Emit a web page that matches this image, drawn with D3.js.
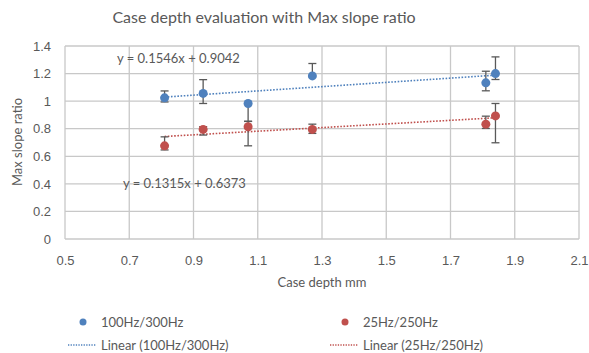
<!DOCTYPE html>
<html lang="en">
<head>
  <meta charset="UTF-8" />
  <title>Case depth evaluation with Max slope ratio</title>
  <style>
    body { margin: 0; background: #fff; font-family: Lato, "Open Sans", sans-serif; }
    .grid line { stroke: #c8c8c8; stroke-width: 1.3; }
    .axis text { fill: #595959; font-size: 13px; }
    .axis path, .axis line { display: none; }
  </style>
</head>
<body>
  <div id="chart"></div>
  <script src="https://d3js.org/d3.v7.min.js"></script>
  <script>
    // Data
    var depths = [0.81, 0.93, 1.07, 1.27, 1.81, 1.84];
    var highFreq = [1.024, 1.056, 0.983, 1.183, 1.133, 1.2];
    var highPlus = [0.05, 0.1, 0, 0.09, 0.084, 0.121];
    var highMinus = [0.03, 0.073, 0.13, 0, 0.058, 0.043];
    var lowFreq = [0.676, 0.795, 0.814, 0.795, 0.833, 0.893];
    var lowPlus = [0.065, 0.02, 0.04, 0.038, 0.058, 0.09];
    var lowMinus = [0.03, 0.041, 0.138, 0.029, 0.031, 0.195];
    var fits = [
      { name: "100Hz/300Hz", slope: 0.1546, icpt: 0.9042, label: "y = 0.1546x + 0.9042" },
      { name: "25Hz/250Hz", slope: 0.1315, icpt: 0.6373, label: "y = 0.1315x + 0.6373" }
    ];
    var xTicks = [0.5, 0.7, 0.9, 1.1, 1.3, 1.5, 1.7, 1.9, 2.1];
    var yTicks = [0, 0.2, 0.4, 0.6, 0.8, 1, 1.2, 1.4];

    var W = 589, H = 353;
    var margin = { top: 46, right: 10, bottom: 114, left: 65 };
    var width = 579 - margin.left, height = 239 - margin.top;
    var colors = ["#4F81BD", "#C0504D"];

    var svg = d3.select("#chart").append("svg")
      .attr("width", W).attr("height", H);
    var g = svg.append("g")
      .attr("transform", "translate(" + margin.left + "," + margin.top + ")");

    var x = d3.scaleLinear().domain([0.5, 2.1]).range([0, width]);
    var y = d3.scaleLinear().domain([0, 1.4]).range([height, 0]);

    // gridlines
    g.append("g").attr("class", "grid")
      .selectAll("line").data(yTicks).enter().append("line")
      .attr("x1", 0).attr("x2", width)
      .attr("y1", function(d) { return y(d); }).attr("y2", function(d) { return y(d); });
    g.append("g").attr("class", "grid")
      .selectAll("line").data(xTicks).enter().append("line")
      .attr("y1", 0).attr("y2", height)
      .attr("x1", function(d) { return x(d); }).attr("x2", function(d) { return x(d); });

    // axes
    g.append("g").attr("class", "axis")
      .attr("transform", "translate(0," + height + ")")
      .call(d3.axisBottom(x).tickValues(xTicks).tickSize(0).tickPadding(17).tickFormat(d3.format("")));
    g.append("g").attr("class", "axis")
      .call(d3.axisLeft(y).tickValues(yTicks).tickSize(0).tickPadding(14).tickFormat(d3.format("")));

    // trendlines
    fits.forEach(function(f, i) {
      var x0 = d3.min(depths), x1 = d3.max(depths);
      g.append("line")
        .attr("x1", x(x0)).attr("y1", y(f.slope * x0 + f.icpt))
        .attr("x2", x(x1)).attr("y2", y(f.slope * x1 + f.icpt))
        .attr("stroke", colors[i]).attr("stroke-width", 1.6)
        .attr("stroke-dasharray", "1.6,1.6");
    });

    // series with error bars
    var series = [
      { vals: highFreq, plus: highPlus, minus: highMinus },
      { vals: lowFreq, plus: lowPlus, minus: lowMinus }
    ];
    series.forEach(function(s, i) {
      var pts = depths.map(function(d, k) {
        return { x: d, y: s.vals[k], hi: s.vals[k] + s.plus[k], lo: s.vals[k] - s.minus[k] };
      });
      var eb = g.append("g").attr("stroke", "#595959").attr("stroke-width", 1.3);
      pts.forEach(function(p) {
        eb.append("line").attr("x1", x(p.x)).attr("x2", x(p.x)).attr("y1", y(p.hi)).attr("y2", y(p.lo));
        [p.hi, p.lo].forEach(function(v, j) {
          var on = j === 0 ? p.hi > p.y : p.lo < p.y;
          if (on) eb.append("line").attr("x1", x(p.x) - 4).attr("x2", x(p.x) + 4).attr("y1", y(v)).attr("y2", y(v));
        });
      });
      g.append("g").selectAll("circle").data(pts).enter().append("circle")
        .attr("cx", function(d) { return x(d.x); })
        .attr("cy", function(d) { return y(d.y); })
        .attr("r", 4.5).attr("fill", colors[i]);
    });

    // equation labels
    svg.append("text").attr("x", 117).attr("y", 63).attr("fill", "#595959")
      .style("font-size", "13px").text(fits[0].label);
    svg.append("text").attr("x", 123).attr("y", 188).attr("fill", "#595959")
      .style("font-size", "13px").text(fits[1].label);

    // titles
    svg.append("text").attr("x", 264).attr("y", 23).attr("text-anchor", "middle")
      .attr("fill", "#595959").style("font-size", "16px")
      .text("Case depth evaluation with Max slope ratio");
    svg.append("text").attr("x", 322).attr("y", 287).attr("text-anchor", "middle")
      .attr("fill", "#595959").style("font-size", "13px").text("Case depth mm");
    svg.append("text").attr("transform", "translate(22,142) rotate(-90)")
      .attr("text-anchor", "middle").attr("fill", "#595959")
      .style("font-size", "13px").text("Max slope ratio");

    // legend
    var legX = [83, 345];
    fits.forEach(function(f, i) {
      svg.append("circle").attr("cx", legX[i]).attr("cy", 322).attr("r", 3.5).attr("fill", colors[i]);
      svg.append("text").attr("x", legX[i] + 18).attr("y", 327).attr("fill", "#595959")
        .style("font-size", "13px").text(f.name);
      svg.append("line").attr("x1", legX[i] - 15).attr("x2", legX[i] + 13)
        .attr("y1", 345).attr("y2", 345).attr("stroke", colors[i])
        .attr("stroke-width", 1.3).attr("stroke-dasharray", "1.3,1.3");
      svg.append("text").attr("x", legX[i] + 18).attr("y", 350).attr("fill", "#595959")
        .style("font-size", "13px").text("Linear (" + f.name + ")");
    });
  </script>
</body>
</html>
